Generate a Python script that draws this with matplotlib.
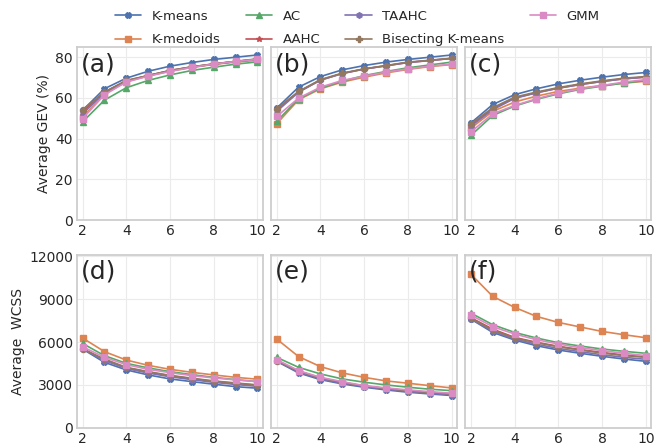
import matplotlib
matplotlib.use("Agg")
import matplotlib.pyplot as plt
import seaborn as sns

sns.set_theme(style="whitegrid")
plt.rcParams['font.family'] = ['DejaVu Sans']

k = [2, 3, 4, 5, 6, 7, 8, 9, 10]
methods = ["K-means", "K-medoids", "AC", "AAHC", "TAAHC", "Bisecting K-means", "GMM"]
markers = ["X", "s", "^", "*", "h", "P", "s"]

# Average GEV (%) for panels (a), (b), (c)
gev_a = {
    "K-means":           [53.9, 64.5, 69.7, 73.1, 75.6, 77.4, 78.9, 80.0, 81.1],
    "K-medoids":         [50.5, 62.0, 68.0, 70.8, 73.2, 75.0, 76.5, 77.6, 78.5],
    "AC":                [48.2, 58.9, 65.0, 68.6, 71.3, 73.5, 75.1, 76.6, 77.7],
    "AAHC":              [53.2, 62.8, 68.4, 71.0, 73.4, 75.2, 76.7, 77.9, 79.0],
    "TAAHC":             [52.2, 62.5, 68.3, 70.9, 73.4, 75.2, 76.6, 77.9, 79.0],
    "Bisecting K-means": [54.2, 62.9, 68.6, 71.0, 73.5, 75.3, 76.7, 78.0, 79.2],
    "GMM":               [49.8, 61.5, 67.8, 70.7, 73.0, 75.0, 76.6, 77.9, 78.9],
}
gev_b = {
    "K-means":           [55.0, 65.3, 70.5, 73.8, 75.9, 77.6, 78.9, 80.0, 81.1],
    "K-medoids":         [47.3, 59.1, 64.5, 67.8, 70.2, 72.3, 74.0, 75.4, 76.4],
    "AC":                [48.5, 59.6, 64.8, 68.2, 71.0, 73.0, 74.8, 76.2, 77.6],
    "AAHC":              [54.2, 63.0, 68.8, 72.0, 74.2, 75.8, 77.4, 78.4, 79.4],
    "TAAHC":             [53.4, 62.8, 68.7, 72.0, 74.2, 75.8, 77.4, 78.4, 79.4],
    "Bisecting K-means": [54.7, 63.2, 69.0, 72.2, 74.3, 75.9, 77.6, 78.5, 79.5],
    "GMM":               [50.9, 59.9, 65.3, 68.6, 70.7, 72.7, 74.3, 75.6, 76.6],
}
gev_c = {
    "K-means":           [47.7, 56.8, 61.6, 64.5, 66.9, 68.7, 70.2, 71.5, 72.5],
    "K-medoids":         [45.2, 53.4, 58.0, 60.9, 63.2, 64.8, 66.1, 67.3, 68.2],
    "AC":                [41.6, 51.4, 56.0, 59.3, 62.0, 64.2, 65.8, 67.3, 68.6],
    "AAHC":              [46.8, 54.6, 60.0, 62.6, 64.8, 66.6, 68.1, 69.4, 70.2],
    "TAAHC":             [46.2, 54.2, 59.8, 62.5, 64.8, 66.6, 68.1, 69.4, 70.3],
    "Bisecting K-means": [47.3, 55.2, 60.4, 62.9, 65.1, 66.9, 68.4, 69.7, 70.5],
    "GMM":               [43.3, 52.2, 56.3, 59.6, 62.4, 64.5, 66.1, 67.8, 69.0],
}

# Average WCSS for panels (d), (e), (f)
wcss_d = {
    "K-means":           [5510, 4580, 4050, 3700, 3420, 3230, 3050, 2880, 2770],
    "K-medoids":         [6280, 5330, 4740, 4370, 4090, 3880, 3700, 3530, 3400],
    "AC":                [5900, 5050, 4510, 4190, 3930, 3720, 3530, 3370, 3230],
    "AAHC":              [5550, 4760, 4200, 3900, 3640, 3440, 3250, 3110, 2980],
    "TAAHC":             [5530, 4700, 4150, 3830, 3570, 3370, 3180, 3030, 2900],
    "Bisecting K-means": [5510, 4810, 4230, 3930, 3670, 3470, 3280, 3140, 3000],
    "GMM":               [5670, 4930, 4420, 4090, 3860, 3650, 3490, 3350, 3230],
}
wcss_e = {
    "K-means":           [4650, 3840, 3370, 3070, 2840, 2650, 2490, 2370, 2260],
    "K-medoids":         [6210, 4980, 4280, 3840, 3530, 3280, 3120, 2950, 2790],
    "AC":                [4930, 4230, 3770, 3420, 3190, 3000, 2840, 2700, 2600],
    "AAHC":              [4720, 3950, 3480, 3160, 2920, 2740, 2590, 2460, 2360],
    "TAAHC":             [4680, 3900, 3430, 3120, 2890, 2710, 2550, 2420, 2320],
    "Bisecting K-means": [4700, 3960, 3500, 3180, 2930, 2760, 2600, 2480, 2370],
    "GMM":               [4770, 4000, 3530, 3230, 2950, 2790, 2650, 2530, 2420],
}
wcss_f = {
    "K-means":           [7600, 6670, 6140, 5740, 5440, 5210, 5000, 4810, 4650],
    "K-medoids":         [10740, 9190, 8420, 7790, 7370, 7050, 6740, 6510, 6300],
    "AC":                [8020, 7210, 6670, 6280, 5950, 5720, 5510, 5350, 5210],
    "AAHC":              [7700, 6900, 6320, 5980, 5700, 5470, 5270, 5090, 4960],
    "TAAHC":             [7620, 6760, 6210, 5840, 5550, 5320, 5110, 4930, 4790],
    "Bisecting K-means": [7650, 6840, 6280, 5950, 5670, 5440, 5230, 5050, 4930],
    "GMM":               [7880, 7070, 6560, 6160, 5860, 5600, 5400, 5210, 5050],
}

panels = [gev_a, gev_b, gev_c, wcss_d, wcss_e, wcss_f]
labels = ["(a)", "(b)", "(c)", "(d)", "(e)", "(f)"]
colors = sns.color_palette("deep", 7)

fig, axes = plt.subplots(2, 3, figsize=(6.7, 4.48), dpi=100)
fig.subplots_adjust(left=0.115, right=0.972, bottom=0.045, top=0.895,
                    wspace=0.045, hspace=0.2)

for i, ax in enumerate(axes.flat):
    data = panels[i]
    for j, m in enumerate(methods):
        ax.plot(k, data[m], color=colors[j], marker=markers[j], markersize=4,
                linewidth=1.2, label=m)
    ax.set_xlim(1.75, 10.25)
    ax.set_xticks([2, 4, 6, 8, 10])
    ax.tick_params(axis='both', labelsize=10, length=0, pad=3)
    ax.text(0.02, 0.97, labels[i], transform=ax.transAxes, fontsize=18,
            va='top', ha='left')
    for s in ax.spines.values():
        s.set_color('#cccccc')
    ax.grid(color='#ebebeb', linewidth=0.8)
    if i < 3:
        ax.set_ylim(0, 85)
        ax.set_yticks([0, 20, 40, 60, 80])
    else:
        ax.set_ylim(0, 12100)
        ax.set_yticks([0, 3000, 6000, 9000, 12000])
    if i % 3 != 0:
        ax.set_yticklabels([])

axes[0, 0].set_ylabel("Average GEV (%)", fontsize=10, labelpad=3)
axes[1, 0].set_ylabel("Average  WCSS", fontsize=10, labelpad=3)

handles, lbls = axes[0, 0].get_legend_handles_labels()
fig.legend(handles, lbls, loc='upper center', ncol=4, fontsize=9.5,
           frameon=False, bbox_to_anchor=(0.533, 1.005),
           columnspacing=1.9, handlelength=2.0, handletextpad=0.8,
           labelspacing=0.8)

fig.savefig("out.png", dpi=100)
